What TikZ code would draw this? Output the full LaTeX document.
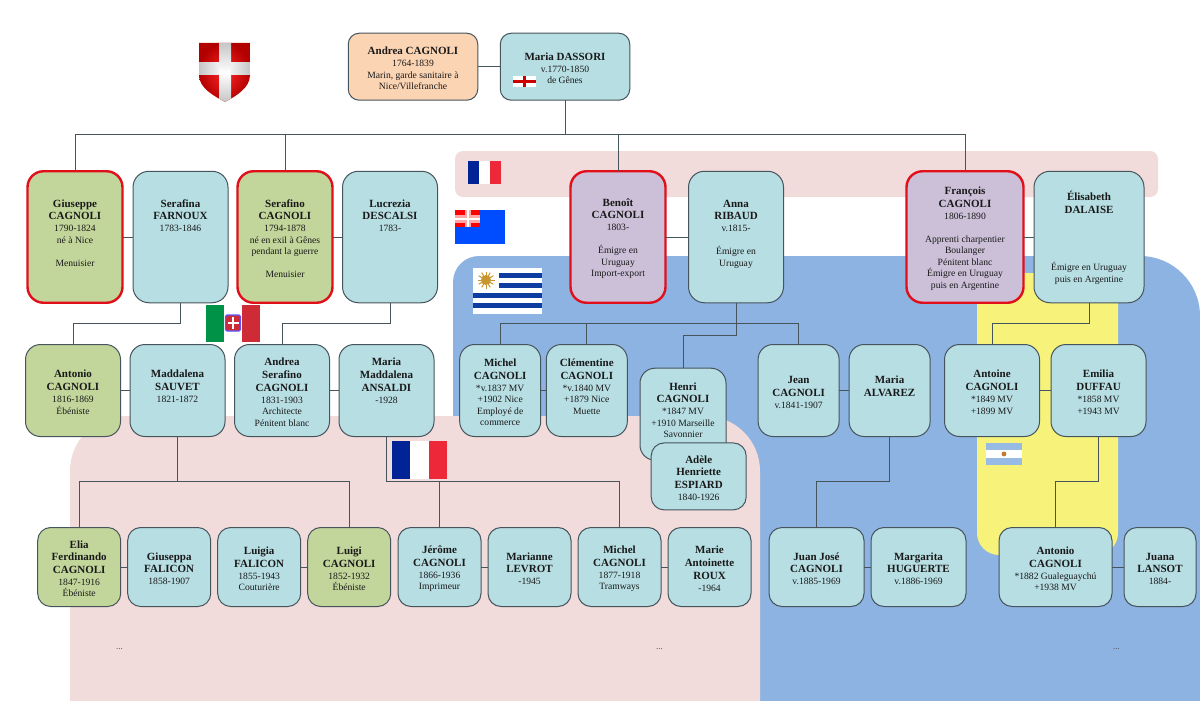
\documentclass[tikz,border=0pt]{standalone}
\usepackage{fontspec}
\setmainfont{Liberation Serif}
\usepackage{tikz}
\usetikzlibrary{positioning}

\definecolor{zoneblue}{HTML}{8DB3E2}
\definecolor{zonepink}{HTML}{F2DBDB}
\definecolor{zoneyellow}{HTML}{F7F27A}
\definecolor{boxblue}{HTML}{B7DEE3}
\definecolor{boxgreen}{HTML}{C2D69B}
\definecolor{boxorange}{HTML}{FBD4B4}
\definecolor{boxpurple}{HTML}{CCC0D9}
\definecolor{borderred}{HTML}{E00F1A}
\definecolor{edgegray}{HTML}{46545C}
\definecolor{flagblue}{HTML}{002395}
\definecolor{flagred}{HTML}{ED2939}
\definecolor{itgreen}{HTML}{009246}
\definecolor{itred}{HTML}{CE2B37}
\definecolor{uyblue}{HTML}{0F3CA0}
\definecolor{uysun}{HTML}{C8962E}

% first name line, further name lines, last name line
\newcommand{\pf}[2][1.2pt]{{\fontsize{11}{13}\selectfont\bfseries\rule{0pt}{11pt}#2}\\[#1]}
\newcommand{\pn}[1]{{\fontsize{11}{13}\selectfont\bfseries #1}\\[1.2pt]}
\newcommand{\pl}[1]{{\fontsize{11}{13}\selectfont\bfseries #1}\\[0.5pt]}

\begin{document}
\begin{tikzpicture}[x=1pt, y=-1pt,
    person/.style={rectangle, draw=edgegray, line width=1pt, fill=boxblue, align=center, inner sep=0pt, outer sep=0pt, text=black!90, font=\fontsize{9.6}{11.5}\selectfont, rounded corners=13pt},
    tall/.style={person, minimum width=95pt, minimum height=131.5pt, rounded corners=16pt},
    mid/.style={person, minimum width=95pt, minimum height=92pt, rounded corners=15pt},
    narrow/.style={mid, minimum width=81pt},
    low/.style={person, minimum width=83pt, minimum height=79pt},
    lowwide/.style={low, minimum width=95pt},
    origin/.style={line width=2.4pt, draw=borderred},
    green/.style={fill=boxgreen},
    purple/.style={fill=boxpurple},
    link/.style={draw=edgegray, line width=1pt},
    dots/.style={anchor=base, font=\fontsize{9}{11}\selectfont, text=black!70}
]
    \useasboundingbox (0,0) rectangle (1200,701);

    % Country zones
    \fill [zoneblue] (453,701) [rounded corners=26pt] -- (453,256) [rounded corners=60pt] -- (1200,256) [sharp corners] -- (1200,701) -- cycle;
    \fill [zonepink] (70,701) [rounded corners=55pt] -- (70,416) -- (760,416) [sharp corners] -- (760,701) -- cycle;
    \fill [zonepink, rounded corners=8pt] (455,151) rectangle (1158,197);
    \fill [zoneyellow, rounded corners=22pt] (977,273) rectangle (1118,555);

    % Founders
    \node [person, fill=boxorange, minimum width=129.5pt, minimum height=67pt, rounded corners=11pt] (andrea) at (413,66.7) {\pf[0.5pt]{Andrea CAGNOLI}1764-1839\\Marin, garde sanitaire à\\Nice/Villefranche};
    \node [person, minimum width=129.5pt, minimum height=67pt, rounded corners=11pt, right=22.5pt of andrea] (dassori) {\pf[0.5pt]{Maria DASSORI}v.1770-1850\\de Gênes};

    % Second generation
    \node [tall, green, origin] (giuseppe) at (75,237) {\pf{Giuseppe}\pl{CAGNOLI}1790-1824\\né à Nice\\~\\Menuisier\\~};
    \node [tall, right=10.5pt of giuseppe] (serafina) {\pf{Serafina}\pl{FARNOUX}1783-1846\\~\\~\\~\\~};
    \node [tall, green, origin] (serafino) at (285,237) {\pf{Serafino}\pl{CAGNOLI}1794-1878\\né en exil à Gênes\\pendant la guerre\\~\\Menuisier};
    \node [tall, right=10pt of serafino] (lucrezia) {\pf{Lucrezia}\pl{DESCALSI}1783-\\~\\~\\~\\~};
    \node [tall, purple, origin] (benoit) at (618,237) {\pf{Benoît}\pl{CAGNOLI}1803-\\~\\Émigre en\\Uruguay\\Import-export};
    \node [tall, right=23pt of benoit] (anna) {\pf{Anna}\pl{RIBAUD}v.1815-\\~\\Émigre en\\Uruguay\\~};
    \node [tall, purple, origin, minimum width=117pt] (francois) at (965,237) {\pf{François}\pl{CAGNOLI}1806-1890\\~\\Apprenti charpentier\\Boulanger\\Pénitent blanc\\Émigre en Uruguay\\puis en Argentine};
    \node [tall, minimum width=110pt, right=10.5pt of francois] (elisabeth) {\pf{Élisabeth}\pl{DALAISE}~\\~\\~\\[-1pt]~\\Émigre en Uruguay\\puis en Argentine};

    % Third generation
    \node [mid, green] (antonio) at (73,390.5) {\pf{Antonio}\pl{CAGNOLI}1816-1869\\Ébéniste};
    \node [mid, right=9.5pt of antonio] (maddalena) {\pf{Maddalena}\pl{SAUVET}1821-1872\\~};
    \node [mid] (andreas) at (282,390.5) {\pf{Andrea}\pn{Serafino}\pl{CAGNOLI}1831-1903\\Architecte\\Pénitent blanc};
    \node [mid, right=9.5pt of andreas] (mariam) {\pf{Maria}\pn{Maddalena}\pl{ANSALDI}-1928\\~\\~};
    \node [narrow] (michel) at (500.2,390.5) {\pf{Michel}\pl{CAGNOLI}*v.1837 MV\\+1902 Nice\\Employé de\\commerce};
    \node [narrow, right=5.6pt of michel] (clementine) {\pf{Clémentine}\pl{CAGNOLI}*v.1840 MV\\+1879 Nice\\Muette\\~};
    \node [mid, minimum width=86pt] (henri) at (683,414.2) {\pf{Henri}\pl{CAGNOLI}*1847 MV\\+1910 Marseille\\Savonnier\\~};
    \node [person, minimum width=95pt, minimum height=67pt] (adele) at (698.7,476.4) {\pf{Adèle}\pn{Henriette}\pl{ESPIARD}1840-1926};
    \node [narrow] (jean) at (798.6,390.5) {\pf{Jean}\pl{CAGNOLI}v.1841-1907};
    \node [narrow, right=10pt of jean] (mariaa) {\pf{Maria}\pl{ALVAREZ}~};
    \node [mid] (antoine) at (992,390.5) {\pf{Antoine}\pl{CAGNOLI}*1849 MV\\+1899 MV};
    \node [mid, right=11.5pt of antoine] (emilia) {\pf{Emilia}\pl{DUFFAU}*1858 MV\\+1943 MV};

    % Fourth generation
    \node [low, green] (elia) at (79.2,567) {\pf{Elia}\pn{Ferdinando}\pl{CAGNOLI}1847-1916\\Ébéniste};
    \node [low, right=7pt of elia] (giuseppa) {\pf{Giuseppa}\pl{FALICON}1858-1907};
    \node [low] (luigia) at (259.2,567) {\pf{Luigia}\pl{FALICON}1855-1943\\Couturière};
    \node [low, green, right=7pt of luigia] (luigi) {\pf{Luigi}\pl{CAGNOLI}1852-1932\\Ébéniste};
    \node [low] (jerome) at (439.5,567) {\pf{Jérôme}\pl{CAGNOLI}1866-1936\\Imprimeur};
    \node [low, right=7pt of jerome] (marianne) {\pf{Marianne}\pl{LEVROT}-1945};
    \node [low] (michelb) at (619.5,567) {\pf{Michel}\pl{CAGNOLI}1877-1918\\Tramways};
    \node [low, right=7pt of michelb] (marie) {\pf{Marie}\pn{Antoinette}\pl{ROUX}-1964};
    \node [lowwide] (juan) at (816.5,567) {\pf{Juan José}\pl{CAGNOLI}v.1885-1969};
    \node [lowwide, right=7pt of juan] (margarita) {\pf{Margarita}\pl{HUGUERTE}v.1886-1969};
    \node [low, minimum width=113pt] (antoniob) at (1055.5,567) {\pf{Antonio}\pl{CAGNOLI}*1882 Gualeguaychú\\+1938 MV};
    \node [low, minimum width=72pt, right=12pt of antoniob] (juana) {\pf{Juana}\pl{LANSOT}1884-};

    % Continuation marks
    \node [dots] (dotsa) at (119.5,649) {...};
    \node [dots] (dotsb) at (659.5,649) {...};
    \node [dots] (dotsc) at (1116.5,649) {...};

    % Couples
    \path [link] (andrea) -- (dassori);
    \path [link] (giuseppe) -- (serafina);
    \path [link] (serafino) -- (lucrezia);
    \path [link] (benoit) -- (anna);
    \path [link] (francois) -- (elisabeth);
    \path [link] (antonio) -- (maddalena);
    \path [link] (andreas) -- (mariam);
    \path [link] (michel) -- (clementine);
    \path [link] (jean) -- (mariaa);
    \path [link] (antoine) -- (emilia);
    \path [link] (elia) -- (giuseppa);
    \path [link] (luigia) -- (luigi);
    \path [link] (jerome) -- (marianne);
    \path [link] (michelb) -- (marie);
    \path [link] (juan) -- (margarita);
    \path [link] (antoniob) -- (juana);

    % Descent from the founders
    \path [link] (dassori.south) -- ++(0,34) coordinate (topbus);
    \path [link] (topbus) -| (giuseppe.north);
    \path [link] (topbus) -| (serafino.north);
    \path [link] (topbus) -| (benoit.north);
    \path [link] (topbus) -| (francois.north);

    % Descent, second to third generation
    \path [link] (serafina.south) -- ++(0,20.5) -| (antonio.north);
    \path [link] (lucrezia.south) -- ++(0,20.5) -| (andreas.north);
    \path [link] (anna.south) -- ++(0,20.5) coordinate (annabus);
    \path [link] (annabus) -| (michel.north);
    \path [link] (annabus) -| (clementine.north);
    \path [link] (annabus) -| (jean.north);
    \path [link] (anna.south) -- ++(0,32.5) -| (henri.north);
    \path [link] (elisabeth.south) -- ++(0,20.5) -| (antoine.north);

    % Descent, third to fourth generation
    \path [link] (maddalena.south) -- ++(0,45.2) coordinate (madbus);
    \path [link] (madbus) -| (elia.north);
    \path [link] (madbus) -| (luigi.north);
    \path [link] (mariam.south) -- ++(0,45.2) coordinate (ansbus);
    \path [link] (ansbus) -| (jerome.north);
    \path [link] (ansbus) -| (michelb.north);
    \path [link] (mariaa.south) -- ++(0,45.2) -| (juan.north);
    \path [link] (emilia.south) -- ++(0,45.2) -| (antoniob.north);

    % Savoy shield
    \begin{scope}
        \clip (199,43) -- (250,43) -- (250,75) .. controls (250,88) and (236,96) .. (225,102) .. controls (214,96) and (199,88) .. (199,75) -- cycle;
        \shade [inner color=red!85!white, outer color=red!70!black] (199,43) rectangle (250,102);
        \shade [left color=gray!45, right color=gray!45, middle color=white] (199,63) rectangle (250,75);
        \shade [top color=gray!45, bottom color=gray!45, middle color=white] (219.5,43) rectangle (231,102);
    \end{scope}

    % Genoa flag
    \fill [white] (513,76) rectangle (536,87);
    \fill [red!80!black] (513,80) rectangle (536,83);
    \fill [red!80!black] (523,76) rectangle (526,87);

    % France, small
    \fill [flagblue] (468,161) rectangle (479,184);
    \fill [white] (479,161) rectangle (490,184);
    \fill [flagred] (490,161) rectangle (501,184);

    % Sardinian merchant flag
    \fill [blue!70!cyan] (455,210) rectangle (505,244);
    \fill [red] (455,210) rectangle (480,227);
    \fill [red!35!white] (455,215) rectangle (480,222.5);
    \fill [red!35!white] (465,210) rectangle (470.7,227);
    \fill [white] (455,218) rectangle (480,219.5);
    \fill [white] (467.2,210) rectangle (468.5,227);

    % Uruguay
    \fill [white] (473.3,267.5) rectangle (542,313.5);
    \foreach \ypos in {272.8,283} \fill [uyblue] (499,\ypos) rectangle (542,\ypos+4.8);
    \foreach \ypos in {293.2,303.4} \fill [uyblue] (473.3,\ypos) rectangle (542,\ypos+4.8);
    \foreach \ang in {0,30,...,330} \draw [uysun, line width=1pt] (486,280) -- ++(\ang:8.5);
    \fill [uysun] (486,280) circle (5);

    % Italy with the Savoy arms
    \fill [itgreen] (206,305) rectangle (224,342);
    \fill [white] (224,305) rectangle (242,342);
    \fill [itred] (242,305) rectangle (260,342);
    \filldraw [fill=itred, draw=blue!65!white, line width=1.2pt, rounded corners=1.5pt] (225.5,315) rectangle (240.5,331);
    \fill [white] (231.6,317) rectangle (234.4,329);
    \fill [white] (227.5,321.6) rectangle (238.5,324.4);

    % France, large
    \fill [flagblue] (392,441) rectangle (410.3,479);
    \fill [white] (410.3,441) rectangle (428.6,479);
    \fill [flagred] (428.6,441) rectangle (447,479);

    % Argentina
    \fill [zoneblue!90!white] (986,443) rectangle (1022,465);
    \fill [white] (986,450.3) rectangle (1022,457.6);
    \fill [orange!70!black!80] (1004,454) circle (2.4);

\end{tikzpicture}
\end{document}
